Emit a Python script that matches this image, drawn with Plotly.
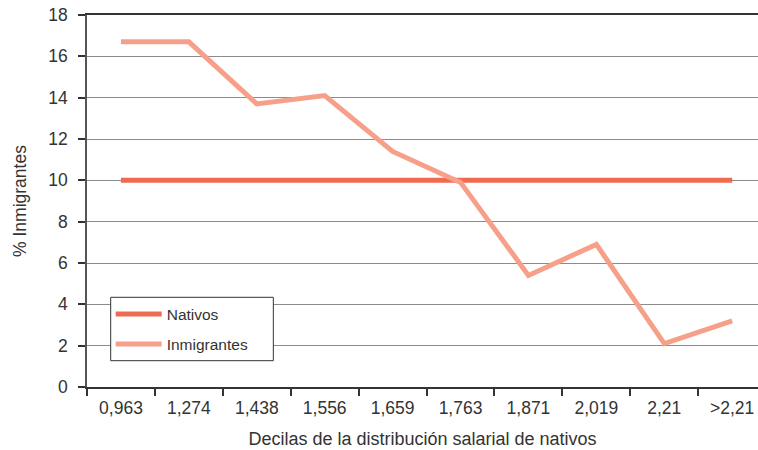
import plotly.graph_objects as go

# Deciles of the native wage distribution
deciles = ["0,963", "1,274", "1,438", "1,556", "1,659", "1,763", "1,871", "2,019", "2,21", ">2,21"]

# Share of each group (%) falling in each native wage decile
nativos = [10, 10, 10, 10, 10, 10, 10, 10, 10, 10]
inmigrantes = [16.7, 16.7, 13.7, 14.1, 11.4, 9.9, 5.4, 6.9, 2.1, 3.2]

y_ticks = [0, 2, 4, 6, 8, 10, 12, 14, 16, 18]

FONT = "Liberation Sans, Arial, Helvetica, sans-serif"
TEXT = "#333333"

fig = go.Figure()
fig.add_trace(go.Scatter(
    x=deciles, y=nativos, mode="lines", name="Nativos",
    line=dict(color="#F06A50", width=5), legendgroup="a",
))
fig.add_trace(go.Scatter(
    x=deciles, y=inmigrantes, mode="lines", name="Inmigrantes",
    line=dict(color="#F7A089", width=5), legendgroup="b",
))

# Framed white box behind the legend entries
legend_box = dict(x0=0.0353, x1=0.2777, y0=0.0707, y1=0.2411)

fig.update_layout(
    width=758, height=450,
    margin=dict(l=87, r=0, t=15, b=63),
    paper_bgcolor="white", plot_bgcolor="white",
    font=dict(family=FONT, size=17.5, color=TEXT),
    showlegend=True,
    legend=dict(
        x=legend_box["x0"], y=legend_box["y1"], xanchor="left", yanchor="top",
        borderwidth=0, bgcolor="rgba(0,0,0,0)",
        font=dict(family=FONT, size=15.5, color=TEXT),
        tracegroupgap=7, itemwidth=46,
    ),
    shapes=[dict(
        type="rect", xref="paper", yref="paper", layer="above",
        line=dict(color="#333333", width=1), fillcolor="white",
        **legend_box,
    )],
    xaxis=dict(
        type="category",
        range=[-0.5, 9.38],
        tickson="boundaries",
        ticks="outside", ticklen=7, tickcolor="#333333", tickwidth=1.5,
        showline=True, linecolor="#333333", linewidth=1.5, mirror=True,
        showgrid=False, zeroline=False,
        ticklabelstandoff=4,
        tickfont=dict(family=FONT, size=17.5, color=TEXT),
        title=dict(text="Decilas de la distribución salarial de nativos",
                   font=dict(family=FONT, size=18, color=TEXT), standoff=16),
    ),
    yaxis=dict(
        range=[0, 18],
        tickvals=y_ticks,
        ticks="outside", ticklen=7, tickcolor="#333333", tickwidth=1.5,
        showline=True, linecolor="#555555", linewidth=1.5,
        showgrid=True, gridcolor="#8c8c8c", gridwidth=1,
        zeroline=False,
        ticklabelstandoff=7,
        tickfont=dict(family=FONT, size=17.5, color=TEXT),
        title=dict(text="% Inmigrantes",
                   font=dict(family=FONT, size=17.5, color=TEXT), standoff=17),
    ),
)

fig.write_html("out.html")
